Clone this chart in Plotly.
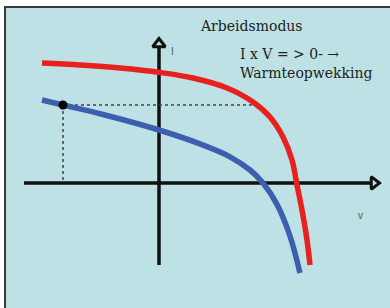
import plotly.graph_objects as go

# Curve data (arbitrary units: V horizontal, I vertical, origin at axis crossing)
red_v = [-5.85, -3.95, -1.95, 0.05, 1.7, 3.4, 4.7, 5.55, 6.2, 6.65, 6.9, 7.15, 7.4, 7.55]
red_i = [6.0, 5.9, 5.75, 5.525, 5.25, 4.75, 4.05, 3.3, 2.3, 1.15, -0.1, -1.35, -2.85, -4.1]
blue_v = [-5.85, -4.8, -2.8, 0.0, 2.05, 3.55, 4.55, 5.2, 5.9, 6.55, 7.05]
blue_i = [4.15, 3.9, 3.425, 2.65, 1.955, 1.31, 0.65, 0.0, -1.07, -2.655, -4.5]
point_v = [-4.8]
point_i = [3.9]
guide_h_v = [-4.8, 4.85]
guide_h_i = [3.9, 3.9]
guide_v_v = [-4.8, -4.8]
guide_v_i = [3.9, 0.0]
xaxis_v = [-6.75, 10.6]
xaxis_i = [0, 0]
yaxis_v = [0, 0]
yaxis_i = [-4.1, 6.8]
labels = ["Arbeidsmodus", "I x V = > 0- \u2192", "Warmteopwekking"]

AX = "#111111"
fig = go.Figure()
# axes
fig.add_trace(go.Scatter(x=xaxis_v, y=xaxis_i, mode="lines", line=dict(color=AX, width=3.5)))
fig.add_trace(go.Scatter(x=yaxis_v, y=yaxis_i, mode="lines", line=dict(color=AX, width=3.5)))
fig.add_trace(go.Scatter(x=[xaxis_v[1] + 0.15], y=[0], mode="markers",
                         marker=dict(symbol="triangle-right-open", size=11, color=AX, line=dict(width=3, color=AX))))
fig.add_trace(go.Scatter(x=[0], y=[yaxis_i[1] + 0.15], mode="markers",
                         marker=dict(symbol="triangle-up-open", size=11, color=AX, line=dict(width=3, color=AX))))
# guides
fig.add_trace(go.Scatter(x=guide_h_v, y=guide_h_i, mode="lines", line=dict(color="#444444", width=1.5, dash="dot")))
fig.add_trace(go.Scatter(x=guide_v_v, y=guide_v_i, mode="lines", line=dict(color="#444444", width=1.5, dash="dot")))
# curves
fig.add_trace(go.Scatter(x=red_v, y=red_i, mode="lines", line=dict(color="#e8211f", width=5.5, shape="spline")))
fig.add_trace(go.Scatter(x=blue_v, y=blue_i, mode="lines", line=dict(color="#3d5fae", width=5.5, shape="spline")))
fig.add_trace(go.Scatter(x=point_v, y=point_i, mode="markers", marker=dict(color="#000000", size=9)))

W, H = 390, 308
fig.update_layout(
    width=W, height=H, margin=dict(l=0, r=0, t=0, b=0),
    paper_bgcolor="white", plot_bgcolor="rgba(0,0,0,0)", showlegend=False,
    xaxis=dict(range=[-7.95, 11.55], visible=False, fixedrange=True),
    yaxis=dict(range=[-6.25, 9.15], visible=False, fixedrange=True),
    shapes=[
        dict(type="rect", xref="paper", yref="paper", x0=5/W, x1=1, y0=0, y1=1-7/H,
             fillcolor="#bde1e4", line=dict(width=0), layer="below"),
        dict(type="line", xref="paper", yref="paper", x0=4/W, x1=1, y0=1-7/H, y1=1-7/H,
             line=dict(color="#3a3a3a", width=2), layer="below"),
        dict(type="line", xref="paper", yref="paper", x0=5/W, x1=5/W, y0=0, y1=1-7/H,
             line=dict(color="#3a3a3a", width=2), layer="below"),
    ],
)
serif = dict(family="DejaVu Serif", size=14, color="#222222")
fig.add_annotation(x=198/W, y=1-26/H, xref="paper", yref="paper", text=labels[0], showarrow=False,
                   xanchor="left", yanchor="middle", font=serif)
fig.add_annotation(x=238/W, y=1-54/H, xref="paper", yref="paper", text=labels[1], showarrow=False,
                   xanchor="left", yanchor="middle", font=serif)
fig.add_annotation(x=238/W, y=1-73/H, xref="paper", yref="paper", text=labels[2], showarrow=False,
                   xanchor="left", yanchor="middle", font=serif)
small = dict(family="Liberation Sans", size=10, color="#555555")
fig.add_annotation(x=0.65, y=6.6, text="I", showarrow=False, font=small)
fig.add_annotation(x=10.05, y=-1.6, text="v", showarrow=False, font=small)

fig.write_html("out.html", config={"displayModeBar": False, "staticPlot": True},
               post_script="document.body.style.margin='0';document.body.style.overflow='hidden';")
